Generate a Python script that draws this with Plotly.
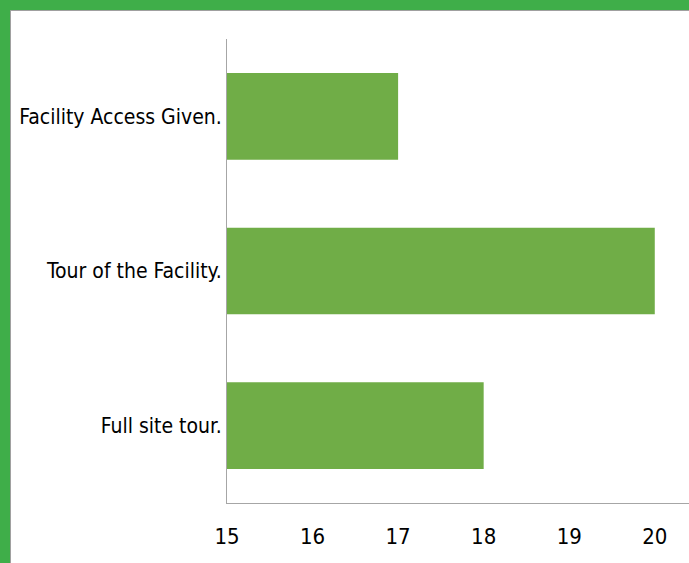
import plotly.graph_objects as go

categories = ["Facility Access Given.", "Tour of the Facility.", "Full site tour."]
values = [17, 20, 18]
x_ticks = [15, 16, 17, 18, 19, 20]

W, H = 689, 563
ML, MR, MT, MB = 227, 0, 39, 60
pw = W - ML - MR
ph = H - MT - MB

def px_x(x):
    return (x - ML) / pw

def px_y(y):
    return (H - MB - y) / ph

fig = go.Figure(go.Bar(
    y=categories, x=values, orientation="h",
    marker=dict(color="#70AD47", line=dict(width=0)),
    width=0.56,
))

fig.add_shape(type="rect", xref="paper", yref="paper",
              x0=px_x(10.5), x1=px_x(W + 20), y0=px_y(10.5), y1=px_y(H + 20),
              fillcolor="white", line=dict(color="#A0A0A0", width=1), layer="below")

fig.update_layout(
    width=W, height=H,
    margin=dict(l=ML, r=MR, t=MT, b=MB, pad=0, autoexpand=False),
    paper_bgcolor="#3FAE49",
    plot_bgcolor="white",
    showlegend=False,
    font=dict(family="DejaVu Sans Condensed, Liberation Sans, sans-serif", size=21, color="#000000"),
    bargap=0.44,
)
fig.update_xaxes(range=[15, 20.4], tickvals=x_ticks, showgrid=False, zeroline=False,
                 showline=True, linecolor="#A6A6A6", linewidth=1, automargin=False,
                 tickfont=dict(size=22),
                 ticks="outside", ticklen=14, tickcolor="rgba(0,0,0,0)")
fig.update_yaxes(autorange="reversed", showgrid=False, zeroline=False,
                 showline=True, linecolor="#A6A6A6", linewidth=1, automargin=False,
                 ticks="", ticklen=0)

fig.write_html("out.html", config={"displayModeBar": False},
               post_script="document.body.style.margin='0';document.body.style.padding='0';")
